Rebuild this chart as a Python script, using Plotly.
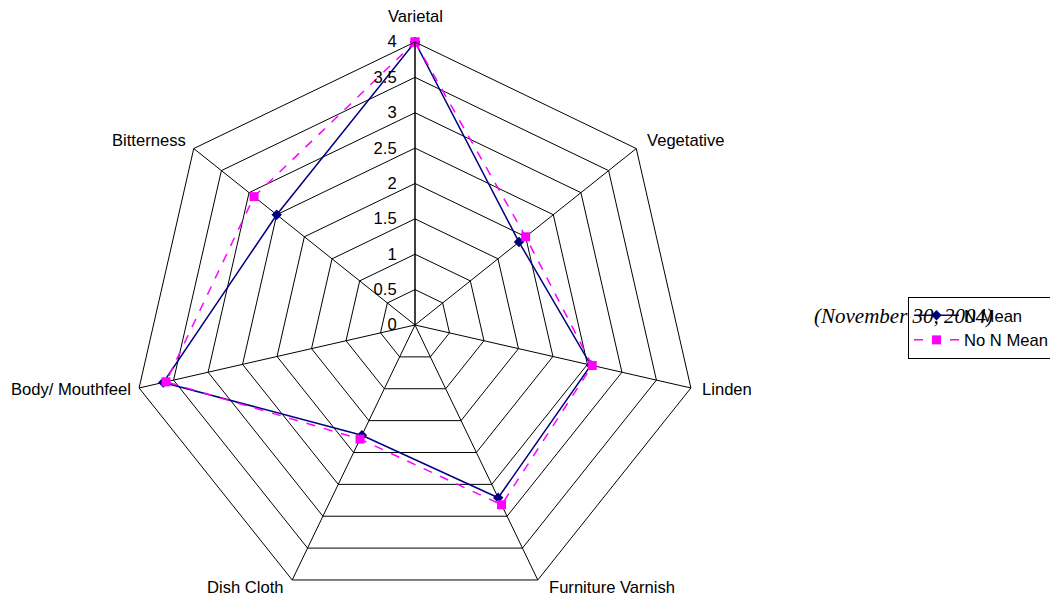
import math
import plotly.graph_objects as go

categories = ["Varietal", "Vegetative", "Linden", "Furniture Varnish",
              "Dish Cloth", "Body/ Mouthfeel", "Bitterness"]
n_mean = [4.0, 1.88, 2.55, 2.71, 1.73, 3.65, 2.5]
no_n_mean = [4.0, 2.0, 2.57, 2.82, 1.79, 3.61, 2.91]
radial_ticks = [0, 0.5, 1, 1.5, 2, 2.5, 3, 3.5, 4]
radial_labels = ["0", "0.5", "1", "1.5", "2", "2.5", "3", "3.5", "4"]
note = "(November 30, 2004)"

W, H = 1058, 601
OFF = 8  # page body margin
cx, cy, r = 415 - OFF, 325 - OFF, 283

def closed(v):
    return list(v) + [v[0]]

fig = go.Figure()
fig.add_trace(go.Scatterpolar(
    r=closed(n_mean), theta=closed(categories), name="N Mean",
    mode="lines+markers",
    line=dict(color="#000080", width=1.5),
    marker=dict(symbol="diamond", size=8, color="#000080"),
))
fig.add_trace(go.Scatterpolar(
    r=closed(no_n_mean), theta=closed(categories), name="No N Mean",
    mode="lines+markers",
    line=dict(color="#FF00FF", width=1.5, dash="dash"),
    marker=dict(symbol="square", size=9, color="#FF00FF"),
))

FONT = "Arial, Liberation Sans, sans-serif"
FS = 16.6

# category labels placed around the polygon vertices (Excel-like placement)
label_annotations = []
n = len(categories)
for i, cat in enumerate(categories):
    a = 2 * math.pi * i / n
    s, c = math.sin(a), math.cos(a)
    vx, vy = cx + r * s, cy - r * c
    k = 13 if c > 0 else 8
    if abs(s) < 0.1:
        x, y, xa = vx, vy - 25, "center"
    elif s > 0:
        x, y, xa = vx + 9, vy - k * c, "left"
    else:
        x, y, xa = vx - 6, vy - k * c, "right"
    label_annotations.append(dict(
        text=cat, x=x / W, y=1 - y / H, xref="paper", yref="paper",
        xanchor=xa, yanchor="middle", showarrow=False,
        font=dict(family=FONT, size=FS, color="black"),
    ))

fig.update_layout(
    width=W, height=H,
    margin=dict(l=0, r=0, t=0, b=0),
    paper_bgcolor="white",
    plot_bgcolor="white",
    font=dict(family=FONT, size=FS, color="black"),
    polar=dict(
        domain=dict(x=[(cx - r) / W, (cx + r) / W],
                    y=[(H - cy - r) / H, (H - cy + r) / H]),
        bgcolor="white",
        gridshape="linear",
        radialaxis=dict(
            range=[0, 4], tickvals=radial_ticks, ticktext=radial_labels,
            angle=90, side="counterclockwise", tickangle=90,
            showline=True, linecolor="black", linewidth=1,
            gridcolor="black", gridwidth=1,
            ticks="outside", ticklen=12, tickcolor="rgba(0,0,0,0)",
            tickfont=dict(family=FONT, size=FS, color="black"),
        ),
        angularaxis=dict(
            direction="clockwise", rotation=90,
            showline=True, linecolor="black", linewidth=1,
            gridcolor="black", gridwidth=1, ticks="",
            showticklabels=False,
        ),
    ),
    showlegend=True,
    legend=dict(
        x=(908 - OFF) / W, y=1 - (297 - OFF) / H, xanchor="left", yanchor="top",
        bgcolor="white", bordercolor="black", borderwidth=1,
        font=dict(family=FONT, size=FS, color="black"),
        tracegroupgap=0, itemwidth=45,
    ),
    annotations=label_annotations + [dict(
        text="<i>" + note + "</i>", x=(995 - OFF) / W, y=1 - (316 - OFF) / H,
        xref="paper", yref="paper",
        xanchor="right", yanchor="middle", showarrow=False,
        font=dict(family="Liberation Serif, Times New Roman, serif", size=21,
                  color="black"),
    )],
)

fig.write_html("out.html")
